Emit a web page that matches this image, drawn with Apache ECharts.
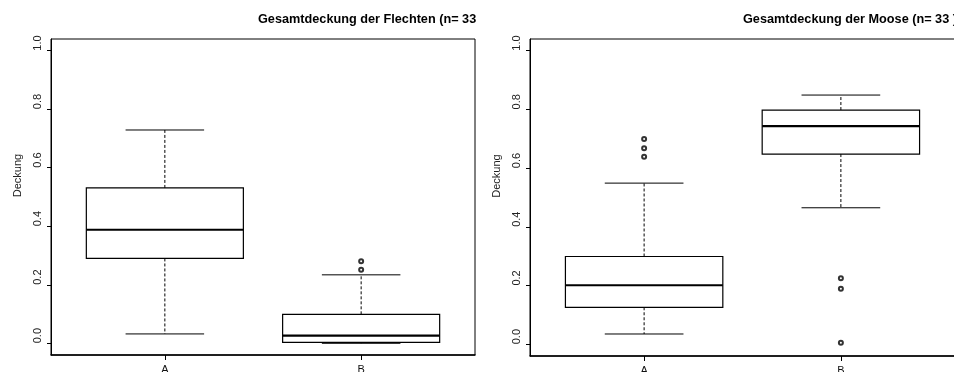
<!DOCTYPE html>
<html>
<head>
<meta charset="utf-8">
<script src="https://cdn.jsdelivr.net/npm/echarts@6/dist/echarts.min.js"></script>
<style>
  html, body { margin: 0; padding: 0; background: #fff; }
  #chart { width: 954px; height: 372px; }
</style>
</head>
<body>
<div id="chart"></div>
<script>
// Groups on the x axis
const categories = ['A', 'B'];

// Five-number summaries per group: [lower whisker, Q1, median, Q3, upper whisker]
const flechtenStats = [
  [0.032, 0.290, 0.388, 0.531, 0.729],
  [0.000, 0.003, 0.026, 0.099, 0.234]
];
const mooseStats = [
  [0.035, 0.126, 0.201, 0.299, 0.549],
  [0.465, 0.648, 0.743, 0.798, 0.849]
];

// Outlying observations per group
const flechtenOutliers = [
  [],
  [0.251, 0.280]
];
const mooseOutliers = [
  [0.639, 0.668, 0.699],
  [0.005, 0.189, 0.225]
];

// Tick positions on the value axis
const yTicks = [0.0, 0.2, 0.4, 0.6, 0.8, 1.0];
const xTicks = [1, 2];

const titleFlechten = 'Gesamtdeckung der Flechten (n= 33 )';
const titleMoose = 'Gesamtdeckung der Moose (n= 33 )';
const yName = 'Deckung';

const FONT = '"Liberation Sans", Arial, Helvetica, sans-serif';
const BOX_WIDTH = 0.8;   // box width in x-axis units
const CAP_RATIO = 0.5;   // whisker cap width relative to box

function boxData(stats) {
  return stats.map((s, i) => [xTicks[i], ...s]);
}
function outlierData(outl) {
  const out = [];
  outl.forEach((vals, i) => vals.forEach(v => out.push([xTicks[i], v])));
  return out;
}

function renderBox(params, api) {
  const x = api.value(0);
  const lo = api.value(1), q1 = api.value(2), med = api.value(3),
        q3 = api.value(4), hi = api.value(5);
  const halfBox = api.size([BOX_WIDTH, 0])[0] / 2;
  const halfCap = halfBox * CAP_RATIO;
  const pLo = api.coord([x, lo]);
  const pQ1 = api.coord([x, q1]);
  const pMed = api.coord([x, med]);
  const pQ3 = api.coord([x, q3]);
  const pHi = api.coord([x, hi]);
  const cx = pMed[0];
  const thin = { stroke: '#000', lineWidth: 1 };
  const dashed = { stroke: '#000', lineWidth: 1, lineDash: [3, 2] };
  return {
    type: 'group',
    children: [
      { type: 'line', shape: { x1: cx, y1: pQ3[1], x2: cx, y2: pHi[1] }, style: dashed },
      { type: 'line', shape: { x1: cx, y1: pQ1[1], x2: cx, y2: pLo[1] }, style: dashed },
      { type: 'line', shape: { x1: cx - halfCap, y1: pHi[1], x2: cx + halfCap, y2: pHi[1] }, style: thin },
      { type: 'line', shape: { x1: cx - halfCap, y1: pLo[1], x2: cx + halfCap, y2: pLo[1] }, style: thin },
      { type: 'rect', shape: { x: cx - halfBox, y: pQ3[1], width: halfBox * 2, height: pQ1[1] - pQ3[1] },
        style: { fill: '#fff', stroke: '#000', lineWidth: 1.2 } },
      { type: 'line', shape: { x1: cx - halfBox, y1: pMed[1], x2: cx + halfBox, y2: pMed[1] },
        style: { stroke: '#000', lineWidth: 2.2 } }
    ]
  };
}

function xAxisFor(gridIndex) {
  return {
    type: 'value', gridIndex, min: 0.42, max: 2.58,
    splitLine: { show: false },
    axisLine: { show: true, onZero: false, lineStyle: { color: '#000', width: 1.5 } },
    axisTick: { show: true, customValues: xTicks, length: 5, lineStyle: { color: '#000' } },
    axisLabel: {
      customValues: xTicks, margin: 9, color: '#111', fontFamily: FONT, fontSize: 11,
      formatter: v => categories[xTicks.indexOf(v)]
    }
  };
}
function yAxisFor(gridIndex) {
  return {
    type: 'value', gridIndex, min: -0.04, max: 1.04,
    splitLine: { show: false },
    axisLine: { show: true, onZero: false, lineStyle: { color: '#000', width: 1 } },
    axisTick: { show: true, customValues: yTicks, length: 4, lineStyle: { color: '#000' } },
    axisLabel: {
      customValues: yTicks, rotate: 90, align: 'left', margin: 8,
      color: '#222', fontFamily: FONT, fontSize: 11,
      formatter: v => v.toFixed(1)
    }
  };
}

const chart = echarts.init(document.getElementById('chart'), null, { renderer: 'canvas' });
chart.setOption({
  backgroundColor: '#fff',
  animation: false,
  title: [
    { text: titleFlechten, left: 258, top: 13, padding: 0,
      textStyle: { fontFamily: FONT, fontSize: 12.7, fontWeight: 'bold', color: '#000',
                   width: 220, overflow: 'truncate', ellipsis: '' } },
    { text: titleMoose, left: 743, top: 13, padding: 0,
      textStyle: { fontFamily: FONT, fontSize: 12.7, fontWeight: 'bold', color: '#000' } }
  ],
  grid: [
    { left: 51, right: 479, top: 39, bottom: 17, outerBoundsMode: 'none', containLabel: false,
      show: true, borderColor: '#000', borderWidth: 1, backgroundColor: 'transparent' },
    { left: 530, right: -1, top: 39, bottom: 16, outerBoundsMode: 'none', containLabel: false,
      show: true, borderColor: '#000', borderWidth: 1, backgroundColor: 'transparent' }
  ],
  xAxis: [xAxisFor(0), xAxisFor(1)],
  yAxis: [yAxisFor(0), yAxisFor(1)],
  graphic: [
    { type: 'text', x: 17.5, y: 175.5, rotation: Math.PI / 2,
      style: { text: yName, font: '11px ' + FONT, fill: '#222', align: 'center', verticalAlign: 'middle' } },
    { type: 'text', x: 497, y: 176, rotation: Math.PI / 2,
      style: { text: yName, font: '11px ' + FONT, fill: '#222', align: 'center', verticalAlign: 'middle' } }
  ],
  series: [
    { type: 'custom', xAxisIndex: 0, yAxisIndex: 0, renderItem: renderBox,
      encode: { x: 0, y: [1, 2, 3, 4, 5] }, data: boxData(flechtenStats) },
    { type: 'scatter', xAxisIndex: 0, yAxisIndex: 0, symbol: 'emptyCircle', symbolSize: 4,
      itemStyle: { color: '#000', borderColor: '#000', borderWidth: 0.7 },
      data: outlierData(flechtenOutliers) },
    { type: 'custom', xAxisIndex: 1, yAxisIndex: 1, renderItem: renderBox,
      encode: { x: 0, y: [1, 2, 3, 4, 5] }, data: boxData(mooseStats) },
    { type: 'scatter', xAxisIndex: 1, yAxisIndex: 1, symbol: 'emptyCircle', symbolSize: 4,
      itemStyle: { color: '#000', borderColor: '#000', borderWidth: 0.7 },
      data: outlierData(mooseOutliers) }
  ]
});
</script>
</body>
</html>
